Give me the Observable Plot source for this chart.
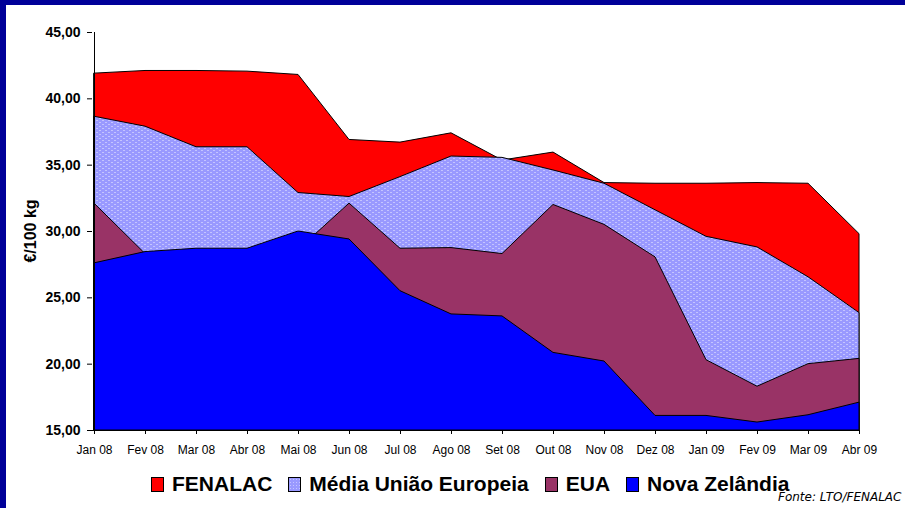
<!DOCTYPE html>
<html>
<head>
<meta charset="utf-8">
<script src="https://cdn.jsdelivr.net/npm/d3@7"></script>
<script src="https://cdn.jsdelivr.net/npm/@observablehq/plot@0.6"></script>
<style>
  html, body { margin: 0; padding: 0; background: white; }
  #page { position: relative; width: 905px; height: 508px; overflow: hidden; background: white; font-family: "Liberation Sans", Arial, sans-serif; }
  #chart { position: absolute; left: 0; top: 0; }
  .strip { position: absolute; background: #000099; }
  #ylabel { position: absolute; left: 31px; top: 231px; transform: translate(-50%, -50%) rotate(-90deg); font-weight: bold; font-size: 16px; white-space: nowrap; color: #000; }
  #legend { position: absolute; left: 151px; top: 472px; display: flex; align-items: center; font-weight: bold; font-size: 21px; color: #000; white-space: nowrap; }
  .item { display: flex; align-items: center; margin-right: 16px; }
  .sw { width: 11px; height: 13px; border: 1px solid #000; margin-right: 8px; box-sizing: content-box; }
  #source { position: absolute; left: 778px; top: 490px; font-family: "DejaVu Sans", Verdana, sans-serif; font-style: italic; font-size: 12px; color: #000; white-space: nowrap; }
</style>
</head>
<body>
<div id="page">
  <div id="chart"></div>
  <div id="ylabel">€/100 kg</div>
  <div id="legend"></div>
  <div id="source">Fonte: LTO/FENALAC</div>
  <div class="strip" style="left:0;top:0;width:905px;height:5px;"></div>
  <div class="strip" style="left:0;top:0;width:6px;height:508px;"></div>
</div>
<script>
const months = ["Jan 08","Fev 08","Mar 08","Abr 08","Mai 08","Jun 08","Jul 08","Ago 08","Set 08","Out 08","Nov 08","Dez 08","Jan 09","Fev 09","Mar 09","Abr 09"];
const fenalac = [41.9, 42.1, 42.1, 42.05, 41.8, 36.9, 36.7, 37.4, 35.35, 35.95, 33.65, 33.6, 33.6, 33.65, 33.6, 29.8];
const mediaUE = [38.65, 37.9, 36.35, 36.35, 32.9, 32.6, 34.1, 35.65, 35.55, 34.6, 33.6, 31.6, 29.6, 28.8, 26.55, 23.85];
const eua = [32.1, 28.3, 28.4, 28.5, 28.6, 32.1, 28.7, 28.75, 28.3, 32.0, 30.5, 28.05, 20.3, 18.3, 20.0, 20.4];
const novaZelandia = [27.6, 28.45, 28.7, 28.7, 30.0, 29.4, 25.5, 23.75, 23.6, 20.85, 20.2, 16.1, 16.1, 15.6, 16.15, 17.1];
const yTicks = [15, 20, 25, 30, 35, 40, 45];
const seriesNames = ["FENALAC", "Média União Europeia", "EUA", "Nova Zelândia"];
const seriesColors = ["#ff0000", "#9999ff", "#993366", "#0000ff"];
const seriesValues = [fenalac, mediaUE, eua, novaZelandia];

const rows = months.map((m, i) => ({month: m, fen: fenalac[i], ue: mediaUE[i], eua: eua[i], nz: novaZelandia[i]}));
const keys = ["fen", "ue", "eua", "nz"];
const base = yTicks[0];

const chart = Plot.plot({
  width: 905,
  height: 462,
  marginLeft: 92,
  marginRight: 45,
  marginTop: 32,
  marginBottom: 32,
  style: {fontFamily: "'Liberation Sans', Arial, sans-serif", background: "white", color: "black", overflow: "visible"},
  x: {type: "point", domain: months, padding: 0},
  y: {domain: [yTicks[0], yTicks[yTicks.length - 1]]},
  marks: [
    ...keys.map((k, i) => Plot.areaY(rows, {x: "month", y1: base, y2: k, fill: seriesColors[i], stroke: "black", strokeWidth: 1, strokeLinejoin: "miter"})),
    Plot.ruleX([months[0]], {stroke: "black", strokeWidth: 1}),
    Plot.ruleY([base], {stroke: "black", strokeWidth: 1}),
    Plot.axisY({ticks: yTicks, tickFormat: d => d.toFixed(2).replace(".", ","), tickSize: 5, tickPadding: 7, fontSize: 14, fontWeight: "bold", label: null}),
    Plot.axisX({tickSize: 4, tickPadding: 11, fontSize: 12, label: null})
  ]
});

// dotted pattern for the EU series
const svg = d3.select(chart);
const defs = svg.insert("defs", ":first-child");
const pat = defs.append("pattern").attr("id", "dotsUE").attr("width", 6).attr("height", 4).attr("patternUnits", "userSpaceOnUse");
pat.append("rect").attr("width", 6).attr("height", 4).attr("fill", "#9999ff");
pat.append("rect").attr("x", 0).attr("y", 0).attr("width", 2).attr("height", 1).attr("fill", "#c4c4ff");
pat.append("rect").attr("x", 3).attr("y", 2).attr("width", 2).attr("height", 1).attr("fill", "#c4c4ff");
const areas = chart.querySelectorAll('g[aria-label="area"]');
if (areas[1]) {
  areas[1].setAttribute("fill", "url(#dotsUE)");
  areas[1].querySelectorAll("path").forEach(p => p.setAttribute("fill", "url(#dotsUE)"));
}
document.getElementById("chart").appendChild(chart);

// legend
const leg = document.getElementById("legend");
seriesNames.forEach((name, i) => {
  const it = document.createElement("div");
  it.className = "item";
  const sw = document.createElement("div");
  sw.className = "sw";
  if (i === 1) {
    sw.style.background = "#9999ff";
    sw.style.backgroundImage = "radial-gradient(#c4c4ff 0.6px, transparent 0.9px)";
    sw.style.backgroundSize = "3px 3px";
  } else {
    sw.style.background = seriesColors[i];
  }
  const tx = document.createElement("span");
  tx.textContent = name;
  it.appendChild(sw);
  it.appendChild(tx);
  leg.appendChild(it);
});
</script>
</body>
</html>
